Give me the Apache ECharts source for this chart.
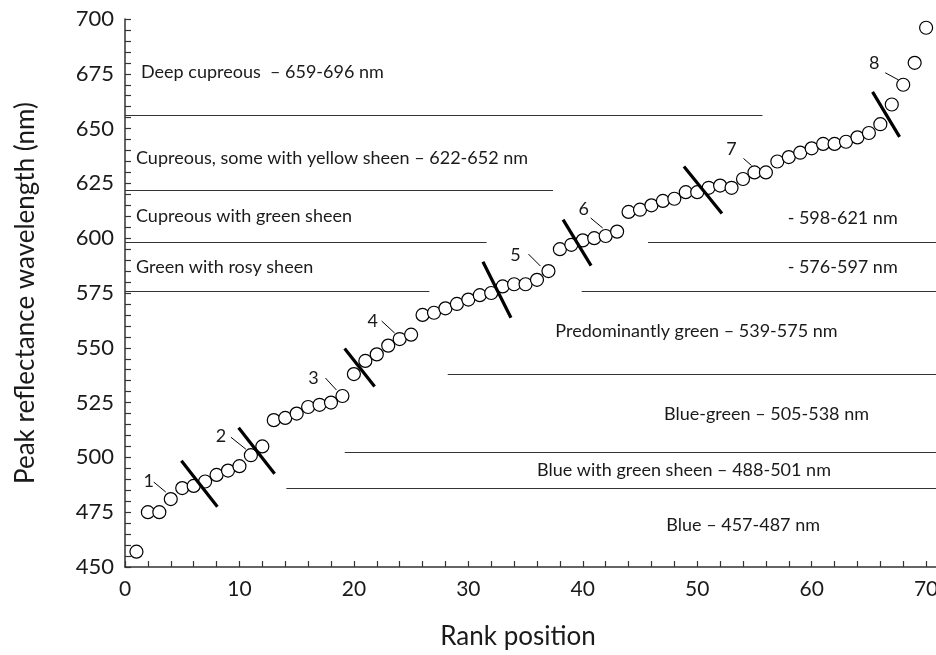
<!DOCTYPE html>
<html>
<head>
<meta charset="utf-8">
<script src="https://cdn.jsdelivr.net/npm/echarts@6/dist/echarts.min.js"></script>
<style>
  html, body { margin: 0; padding: 0; background: #fff; }
  #chart { width: 936px; height: 655px; }
</style>
</head>
<body>
<div id="chart"></div>
<script>
// Rank of each specimen and its peak reflectance wavelength (nm)
const rankPositions = [
  1, 2, 3, 4, 5, 6, 7, 8, 9, 10,
  11, 12, 13, 14, 15, 16, 17, 18, 19, 20,
  21, 22, 23, 24, 25, 26, 27, 28, 29, 30,
  31, 32, 33, 34, 35, 36, 37, 38, 39, 40,
  41, 42, 43, 44, 45, 46, 47, 48, 49, 50,
  51, 52, 53, 54, 55, 56, 57, 58, 59, 60,
  61, 62, 63, 64, 65, 66, 67, 68, 69, 70
];
const peakWavelengths = [
  457, 475, 475, 481, 486, 487, 489, 492, 494, 496,
  501, 505, 517, 518, 520, 523, 524, 525, 528, 538,
  544, 547, 551, 554, 556, 565, 566, 568, 570, 572,
  574, 575, 578, 579, 579, 581, 585, 595, 597, 599,
  600, 601, 603, 612, 613, 615, 617, 618, 621, 621,
  623, 624, 623, 627, 630, 630, 635, 637, 639, 641,
  643, 643, 644, 646, 648, 652, 661, 670, 680, 696
];

// Axis ticks
const xTicks = [0, 10, 20, 30, 40, 50, 60, 70];
const yTicks = [450, 475, 500, 525, 550, 575, 600, 625, 650, 675, 700];

// Colour-class boundaries (nm) and the rank spans over which each rule is drawn
const classBoundaries = [656, 622, 598, 576, 538, 502.5, 486];
const boundarySpans = [
  [[0, 55.7]],
  [[0, 37.4]],
  [[0, 31.6], [45.7, 72]],
  [[0, 26.6], [39.9, 72]],
  [[28.2, 72]],
  [[19.2, 72]],
  [[14.1, 72]]
];

// Colour-class captions and their anchor (rank, nm)
const classLabels = [
  'Deep cupreous  \u2013 659-696 nm',
  'Cupreous, some with yellow sheen \u2013 622-652 nm',
  'Cupreous with green sheen',
  'Green with rosy sheen',
  '- 598-621 nm',
  '- 576-597 nm',
  'Predominantly green \u2013 539-575 nm',
  'Blue-green \u2013 505-538 nm',
  'Blue with green sheen \u2013 488-501 nm',
  'Blue \u2013 457-487 nm'
];
const classLabelAnchors = [
  [1.4, 675.8], [0.96, 636.6], [0.96, 610.1], [0.96, 586.8],
  [57.9, 609.2], [57.9, 586.8], [37.6, 557.7], [47.1, 519.8],
  [36.0, 494.3], [47.3, 469.2]
];

// Group numbers, each pointing at one specimen (by rank)
const groupNumbers = ['1', '2', '3', '4', '5', '6', '7', '8'];
const groupPointerRank = [4, 11, 19, 24, 37, 42, 55, 68];
// Group dividers sit between rank r and r + 1
const dividerAfterRank = [6, 11, 20, 32, 39, 50, 66];

// Layout of the annotation glyphs (pixels)
const numberTextOffset = [[-22, -18], [-30, -19], [-29, -18], [-27, -18], [-33, -16], [-22, -27], [-23, -23], [-29, -22]];
const numberLeader = [
  [[-17, -17], [-5, -7]], [[-20, -18], [-5, -6]], [[-17, -18], [-6, -6]], [[-18, -18], [-5, -6]],
  [[-20, -17], [-8, -5]], [[-15, -18], [-3, -8]], [[-11, -14], [-3, -7]], [[-18, -12], [-5, -5]]
];
const dividerHalfSpan = [[18, 23], [18, 23], [15, 19], [14, 28], [14, 23], [19, 23.5], [13.5, 22.5]];

const FONT = 'Lato, "Open Sans", sans-serif';
const INK = '#1a1a1a';

const chart = echarts.init(document.getElementById('chart'), null, { renderer: 'canvas' });

const boundaryLines = [];
classBoundaries.forEach((v, i) => {
  boundarySpans[i].forEach(([x1, x2]) => {
    boundaryLines.push([{ coord: [x1, v] }, { coord: [x2, v] }]);
  });
});

const option = {
  backgroundColor: '#fff',
  animation: false,
  grid: { left: 125, top: 19, width: 824, height: 548, containLabel: false, outerBoundsMode: 'none' },
  xAxis: {
    type: 'value',
    min: xTicks[0],
    max: 72,
    interval: xTicks[1] - xTicks[0],
    axisLine: { show: true, onZero: false, lineStyle: { color: '#333', width: 1.5 } },
    axisTick: { show: true, inside: true, length: 6, lineStyle: { color: '#333', width: 1.2 } },
    minorTick: { show: true, splitNumber: 5, length: 6, lineStyle: { color: '#333', width: 1.2 } },
    splitLine: { show: false },
    axisLabel: {
      fontFamily: FONT, fontSize: 21, color: INK, margin: 12,
      formatter: v => (xTicks.indexOf(v) >= 0 ? String(v) : '')
    }
  },
  yAxis: {
    type: 'value',
    min: yTicks[0],
    max: yTicks[yTicks.length - 1],
    interval: yTicks[1] - yTicks[0],
    name: 'Peak reflectance wavelength (nm)',
    nameLocation: 'middle',
    nameGap: 86,
    nameTextStyle: { fontFamily: FONT, fontSize: 26, color: INK },
    axisLine: { show: true, lineStyle: { color: '#333', width: 1.5 } },
    axisTick: { show: true, inside: true, length: 6, lineStyle: { color: '#333', width: 1.2 } },
    minorTick: { show: true, splitNumber: 5, length: 6, lineStyle: { color: '#333', width: 1.2 } },
    splitLine: { show: false },
    axisLabel: { fontFamily: FONT, fontSize: 22, color: INK, margin: 11 }
  },
  series: [{
    type: 'scatter',
    data: rankPositions.map((r, i) => [r, peakWavelengths[i]]),
    symbol: 'circle',
    symbolSize: 13,
    itemStyle: { color: '#fff', borderColor: '#000', borderWidth: 1.2, opacity: 1 },
    z: 5,
    markLine: {
      silent: true,
      symbol: ['none', 'none'],
      label: { show: false },
      lineStyle: { color: '#333', width: 1.2, type: 'solid' },
      data: boundaryLines,
      z: 1
    }
  }]
};

chart.setOption(option);

const toPx = (x, y) => chart.convertToPixel({ gridIndex: 0 }, [x, y]);
const elements = [];

// Thick dividers between colour groups
dividerAfterRank.forEach((r, i) => {
  const a = toPx(rankPositions[r - 1], peakWavelengths[r - 1]);
  const b = toPx(rankPositions[r], peakWavelengths[r]);
  const cx = (a[0] + b[0]) / 2, cy = (a[1] + b[1]) / 2;
  const [hx, hy] = dividerHalfSpan[i];
  elements.push({
    type: 'line', z: 100, silent: true,
    shape: { x1: cx - hx, y1: cy - hy, x2: cx + hx, y2: cy + hy },
    style: { stroke: '#000', lineWidth: 3.2 }
  });
});

// Group numbers with short leaders
groupNumbers.forEach((t, i) => {
  const r = groupPointerRank[i];
  const p = toPx(rankPositions[r - 1], peakWavelengths[r - 1]);
  const [l0, l1] = numberLeader[i];
  elements.push({
    type: 'line', z: 100, silent: true,
    shape: { x1: p[0] + l0[0], y1: p[1] + l0[1], x2: p[0] + l1[0], y2: p[1] + l1[1] },
    style: { stroke: '#000', lineWidth: 1 }
  });
  elements.push({
    type: 'text', z: 100, silent: true,
    style: {
      text: t, x: p[0] + numberTextOffset[i][0], y: p[1] + numberTextOffset[i][1],
      font: '18px ' + FONT, fill: INK,
      textAlign: 'center', textVerticalAlign: 'middle', align: 'center', verticalAlign: 'middle'
    }
  });
});

// Colour-class captions
classLabels.forEach((t, i) => {
  const p = toPx(classLabelAnchors[i][0], classLabelAnchors[i][1]);
  elements.push({
    type: 'text', z: 100, silent: true,
    style: {
      text: t, x: p[0], y: p[1],
      font: '18px ' + FONT, fill: INK,
      textAlign: 'left', textVerticalAlign: 'middle', align: 'left', verticalAlign: 'middle'
    }
  });
});

// Horizontal axis title
elements.push({
  type: 'text', z: 100, silent: true,
  style: {
    text: 'Rank position', x: 518, y: 637,
    font: '26px ' + FONT, fill: INK,
    textAlign: 'center', textVerticalAlign: 'middle', align: 'center', verticalAlign: 'middle'
  }
});

chart.setOption({ graphic: { elements: elements } });
</script>
</body>
</html>
